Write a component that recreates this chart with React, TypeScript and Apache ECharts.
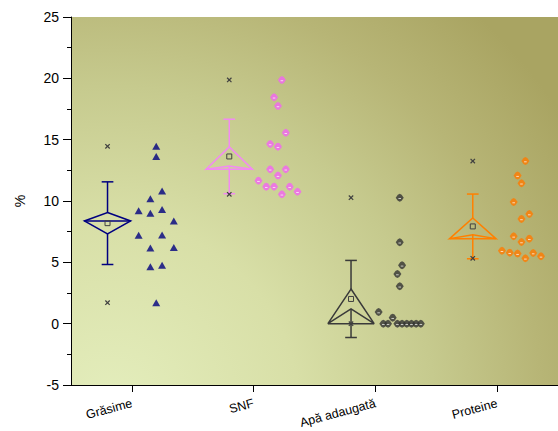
import React, { useEffect, useRef } from 'react';
import * as echarts from 'echarts';

// ---- data ----
const categories = ['Grăsime', 'SNF', 'Apă adaugată', 'Proteine'];
const grasime = [1.71, 4.65, 4.76, 7.2, 6.17, 7.23, 6.2, 9.21, 9.0, 9.3, 8.37, 10.19, 10.82, 13.62, 14.46];
const snf = [11.66, 11.17, 11.17, 10.55, 11.17, 10.76, 12.59, 12.07, 12.59, 14.65, 14.43, 15.57, 17.75, 18.46, 19.87];
const apa = [0.95, 0, 0, 0.49, 0, 0, 0, 0, 0, 0, 3.05, 4.05, 4.76, 6.64, 10.27];
const proteine = [5.95, 5.79, 5.71, 5.33, 5.76, 5.49, 7.12, 6.66, 6.93, 9.92, 8.54, 8.94, 11.45, 12.07, 13.26];
const yMin = -5;
const yMax = 25;
const yInterval = 5;

const seriesValues = [grasime, snf, apa, proteine];

// ---- styling ----
const lineColors = ['#000080', '#f28af2', '#3a3a3a', '#ff8000'];
const markerColors = ['#000080', '#f264f2', '#333333', '#ff7a00'];
const BOX_OFFSET = -0.2;
const POINT_OFFSET = 0.2;
const BIN = 2;
const SPREAD = 0.385;
const HALF_W = 0.19;
const CAP_W = 0.048;

function stats(v: number[]) {
  const n = v.length;
  const mean = v.reduce((a, b) => a + b, 0) / n;
  const sd = Math.sqrt(v.reduce((a, b) => a + (b - mean) * (b - mean), 0) / (n - 1));
  const se = sd / Math.sqrt(n);
  const s = [...v].sort((a, b) => a - b);
  const median = n % 2 ? s[(n - 1) / 2] : (s[n / 2 - 1] + s[n / 2]) / 2;
  return [mean, sd, se, median, s[0], s[n - 1]];
}

function swarm(v: number[], idx: number) {
  const bins = new Map<number, number[]>();
  v.forEach((y, k) => {
    const b = Math.floor(y / BIN);
    if (!bins.has(b)) bins.set(b, []);
    bins.get(b)!.push(k);
  });
  const maxCount = Math.max(...Array.from(bins.values()).map((a) => a.length));
  const step = SPREAD / maxCount;
  const out: number[][] = [];
  bins.forEach((ks) =>
    ks.forEach((k, j) => out.push([idx + POINT_OFFSET + (j - (ks.length - 1) / 2) * step, v[k]]))
  );
  return out;
}

const hexSymbol = 'path://M0,5L2.6,1.2L5,0L7.4,1.2L10,5L7.4,8.8L5,10L2.6,8.8Z';

export default function App() {
  const ref = useRef<HTMLDivElement>(null);
  useEffect(() => {
    if (!ref.current) return;
    const chart = echarts.init(ref.current, null, { renderer: 'svg' });

    const boxData = seriesValues.map((v, i) => [i, ...stats(v)]);

    const pointSeries: any[] = [];
    seriesValues.forEach((v, i) => {
      const pts = swarm(v, i);
      pointSeries.push({
        type: 'scatter',
        xAxisIndex: 1,
        yAxisIndex: 0,
        data: pts,
        symbol: i === 0 ? 'triangle' : hexSymbol,
        symbolSize: i === 0 ? [8, 7] : [8, 8],
        itemStyle: { color: markerColors[i] },
        z: 3,
        silent: true,
      });
      if (i > 0) {
        pointSeries.push({
          type: 'scatter',
          xAxisIndex: 1,
          yAxisIndex: 0,
          data: pts,
          symbol: 'rect',
          symbolSize: [2.6, 1],
          symbolOffset: [0, 0.8],
          itemStyle: { color: '#ffffff', opacity: 0.7 },
          z: 4,
          silent: true,
        });
      }
    });

    const option: any = {
      animation: false,
      textStyle: { fontFamily: 'Liberation Sans, Arial, sans-serif' },
      grid: {
        left: 71,
        top: 17,
        width: 498,
        height: 368,
        show: true,
        borderWidth: 0,
        backgroundColor: {
          type: 'radial',
          x: 110,
          y: 410,
          r: 540,
          global: true,
          colorStops: [
            { offset: 0, color: '#e4eebd' },
            { offset: 0.35, color: '#d8dfa7' },
            { offset: 0.6, color: '#c6ca8e' },
            { offset: 0.8, color: '#b7b576' },
            { offset: 1, color: '#a9a462' },
          ],
        },
      },
      xAxis: [
        {
          type: 'category',
          data: categories,
          position: 'bottom',
          axisLine: { show: true, onZero: false, lineStyle: { color: '#000', width: 1 } },
          axisTick: { show: true, alignWithLabel: true, length: 7, lineStyle: { color: '#000' } },
          axisLabel: { rotate: 15, fontSize: 12.5, margin: 18, color: '#000', interval: 0 },
          splitLine: { show: false },
        },
        {
          type: 'value',
          min: -0.5,
          max: 3.5,
          show: false,
          axisLine: { onZero: false },
        },
      ],
      yAxis: {
        type: 'value',
        min: yMin,
        max: yMax,
        interval: yInterval,
        name: '%',
        nameLocation: 'middle',
        nameGap: 44,
        nameTextStyle: { fontSize: 14, color: '#000' },
        axisLine: { show: true, onZero: false, lineStyle: { color: '#000', width: 1 } },
        axisTick: { show: true, length: 8, lineStyle: { color: '#000' } },
        minorTick: { show: true, splitNumber: 2, length: 4, lineStyle: { color: '#000' } },
        axisLabel: { fontSize: 14, margin: 12, color: '#000' },
        splitLine: { show: false },
      },
      series: [
        {
          type: 'custom',
          xAxisIndex: 1,
          yAxisIndex: 0,
          data: boxData,
          encode: { x: 0, y: 1 },
          silent: true,
          z: 2,
          renderItem: (params: any, api: any) => {
            const i = api.value(0);
            const mean = api.value(1);
            const sd = api.value(2);
            const se = api.value(3);
            const med = api.value(4);
            const mn = api.value(5);
            const mx = api.value(6);
            const cx = i + BOX_OFFSET;
            const c = (x: number, y: number) => api.coord([x, y]);
            const color = lineColors[i];
            const ls = { stroke: color, fill: 'none', lineWidth: 1.5 };
            const m = c(cx, mean);
            const cross = (y: number) => {
              const p = c(cx, y);
              const h = 2.2;
              return [
                { type: 'line', shape: { x1: p[0] - h, y1: p[1] - h, x2: p[0] + h, y2: p[1] + h }, style: { stroke: '#404040', lineWidth: 1.2 } },
                { type: 'line', shape: { x1: p[0] - h, y1: p[1] + h, x2: p[0] + h, y2: p[1] - h }, style: { stroke: '#404040', lineWidth: 1.2 } },
              ];
            };
            return {
              type: 'group',
              children: [
                { type: 'polygon', shape: { points: [c(cx, mean + se), c(cx + HALF_W, med), c(cx, mean - se), c(cx - HALF_W, med)] }, style: ls },
                { type: 'polyline', shape: { points: [c(cx - HALF_W, med), c(cx + HALF_W, med)] }, style: ls },
                { type: 'polyline', shape: { points: [c(cx, mean + sd), c(cx, mean + se)] }, style: ls },
                { type: 'polyline', shape: { points: [c(cx, mean - se), c(cx, mean - sd)] }, style: ls },
                { type: 'polyline', shape: { points: [c(cx - CAP_W, mean + sd), c(cx + CAP_W, mean + sd)] }, style: ls },
                { type: 'polyline', shape: { points: [c(cx - CAP_W, mean - sd), c(cx + CAP_W, mean - sd)] }, style: ls },
                { type: 'rect', shape: { x: m[0] - 2.5, y: m[1] - 2.5, width: 5, height: 5 }, style: { stroke: '#404040', fill: 'none', lineWidth: 1 } },
                ...cross(mn),
                ...cross(mx),
              ],
            };
          },
        },
        ...pointSeries,
      ],
    };
    chart.setOption(option);
    return () => chart.dispose();
  }, []);

  return (
    <div
      ref={ref}
      style={{ position: 'fixed', left: 0, top: 0, width: 558, height: 431, background: '#fff' }}
    />
  );
}
